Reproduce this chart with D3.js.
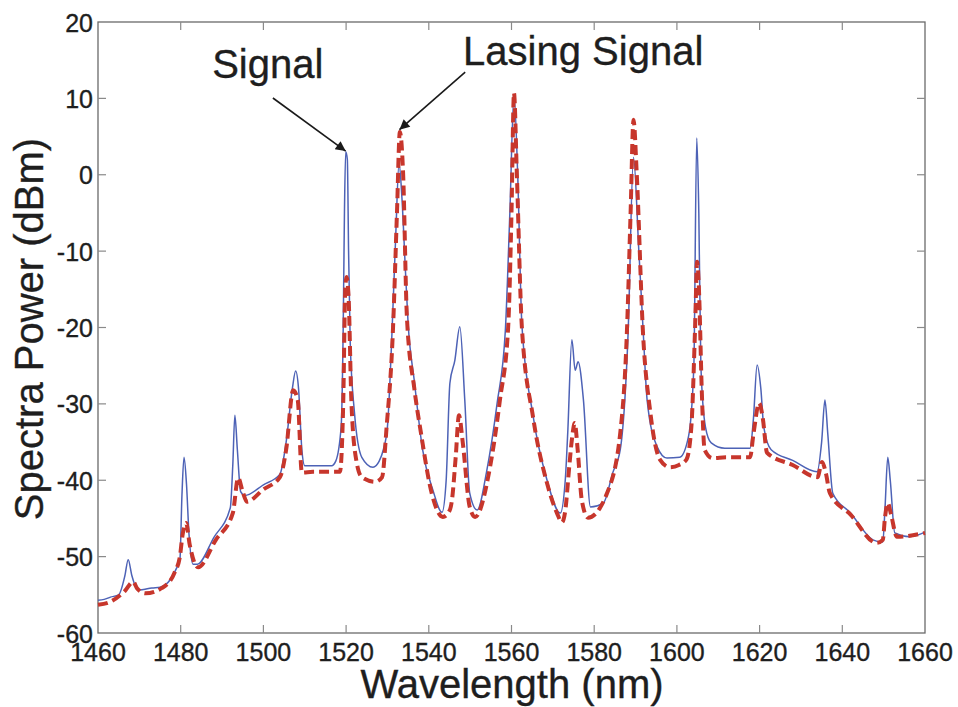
<html>
  <head>
    <meta charset="utf-8">
    <title>Spectra Power vs Wavelength</title>
  </head>
<style>
  body { margin: 0; background: #fff; }
  text { font-family: "Liberation Sans", Arial, sans-serif; fill: #1e1e1e; stroke: #1e1e1e; stroke-width: 0.35px; }
</style>
  <body>
    <script src="https://d3js.org/d3.v7.min.js" charset="utf-8"></script>
    <script>

    var width = 958,
        height = 707;

    // axis ticks
    var xTicks = [1460, 1480, 1500, 1520, 1540, 1560, 1580, 1600, 1620, 1640, 1660];
    var yTicks = [20, 10, 0, -10, -20, -30, -40, -50, -60];

    // blue solid trace (wavelength nm / power dBm)
    var blueWl = [1460, 1461.5, 1463, 1465, 1466.5, 1467.3, 1468.2, 1469.7, 1471, 1473, 1475, 1477.5, 1479, 1479.8,
      1480.3, 1480.8, 1481.4, 1482, 1483, 1484, 1488, 1492, 1492.6, 1493.1, 1493.7, 1494.5, 1495.5, 1500, 1504,
      1505.5, 1507, 1507.8, 1508.5, 1509.3, 1510, 1516.5, 1517.5, 1518.8, 1519.3, 1519.6, 1519.9, 1520.3, 1520.6,
      1521, 1522, 1523.8, 1526.5, 1528, 1529, 1530, 1531, 1532, 1532.8, 1533.5, 1534.3, 1535, 1536.5, 1538.5,
      1541, 1543.2, 1544.2, 1545.1, 1546.3, 1547.5, 1548.7, 1549.9, 1551.7, 1554, 1556.5, 1558.5, 1559.6, 1560.6,
      1561.5, 1562.5, 1565.2, 1568.6, 1571.8, 1573, 1573.6, 1574.6, 1575.4, 1576.1, 1577.4, 1579.1, 1582.2, 1584.5,
      1586.3, 1588.2, 1589.5, 1590.8, 1591.8, 1592.8, 1595.2, 1597.6, 1600.7, 1602.8, 1604.1, 1604.8, 1605.3,
      1605.8, 1606.9, 1608.3, 1611.6, 1617.7, 1618.5, 1619.4, 1620.3, 1621, 1622.8, 1628, 1633.9, 1635, 1635.8,
      1636.5, 1637.7, 1642, 1647.4, 1649.8, 1650.3, 1651, 1651.6, 1652.7, 1656.3, 1660];
    var blueDbm = [-55.7, -55.6, -55.3, -55.0, -52.5, -50.4, -52.5, -54.4, -54.3, -54.1, -54.0, -53.0, -51.5, -50.5,
      -42.0, -37.0, -40.5, -47.0, -51.0, -51.0, -47.5, -43.6, -38.0, -31.5, -36.0, -41.5, -42.0, -40.6, -39.2,
      -35.0, -28.0, -25.7, -28.0, -36.0, -38.1, -38.1, -37.5, -33.0, -20.0, -5.0, 3.0, 2.0, -10.0,
      -22.0, -31.0, -37.0, -38.3, -37.5, -36.0, -33.0, -22.0, -8.0, 1.5, -3.0, -12.0, -19.5, -27.0, -36.0,
      -41.3, -44.2, -40.0, -27.3, -24.3, -19.9, -29.5, -41.7, -43.9, -38.8, -30.0, -20.5, -5.0, 10.5,
      0.0, -19.5, -31.5, -40.0, -44.3, -40.0, -33.8, -21.6, -25.6, -24.5, -29.5, -43.5, -43.0, -39.0,
      -36.0, -20.7, 2.3, -10.0, -20.0, -29.5, -35.6, -37.1, -37.0, -34.3, -25.0, 4.8, -5.0,
      -25.0, -33.0, -35.1, -35.8, -35.8, -32.0, -24.9, -28.0, -33.0, -36.0, -37.4, -38.9, -35.0, -29.5,
      -34.0, -41.7, -44.3, -47.8, -48.1, -44.0, -37.0, -40.0, -46.9, -47.4, -46.8];

    // red dashed trace
    var redWl = [1460, 1463, 1466.5, 1468.5, 1469.5, 1471.5, 1475.5, 1478.5, 1479.8, 1480.5, 1481.3, 1482.2, 1484.2,
      1488.5, 1492.6, 1493.9, 1495, 1496, 1500, 1504, 1505.5, 1507.2, 1508.3, 1509.3, 1512, 1518.5, 1519.3,
      1519.8, 1520.1, 1520.6, 1521.3, 1522.5, 1523.8, 1527, 1528.7, 1529.8, 1531.3, 1532.3, 1533, 1533.8, 1534.7,
      1536.5, 1538.1, 1540.7, 1543.4, 1545, 1545.6, 1546.5, 1547.3, 1548.2, 1549.9, 1551.2, 1554.8, 1557.2,
      1559.2, 1560, 1560.6, 1561.3, 1562.5, 1565.2, 1568.6, 1571, 1572.2, 1573, 1574, 1574.6, 1575.3, 1576,
      1577, 1578.5, 1583.1, 1586.3, 1587.9, 1588.8, 1589.5, 1590.3, 1591.8, 1593.5, 1595.9, 1598.3, 1600.5,
      1602.3, 1603.5, 1604.4, 1604.9, 1605.4, 1606, 1606.7, 1608.6, 1612, 1617.7, 1618.5, 1619.9, 1620.8, 1621.8,
      1628, 1634, 1635.1, 1636, 1637, 1642, 1648.3, 1649.8, 1650.3, 1651, 1651.8, 1653.2, 1660];
    var redDbm = [-56.3, -55.9, -54.5, -53.3, -54.2, -54.8, -54.1, -52.1, -50.0, -47.0, -45.6, -48.5, -51.4,
      -47.8, -44.3, -39.7, -41.5, -42.8, -41.2, -39.6, -36.0, -28.2, -29.5, -39.0, -38.9, -38.9, -30.0,
      -15.0, -13.4, -16.0, -30.0, -37.5, -39.6, -40.2, -39.6, -33.0, -20.7, -5.0, 5.6, 0.0, -18.6,
      -28.0, -33.8, -41.7, -44.8, -44.0, -42.6, -37.0, -31.5, -35.0, -43.5, -44.8, -38.3, -29.5,
      -19.9, -5.0, 10.7, 0.0, -19.9, -31.7, -40.4, -44.3, -45.5, -44.0, -38.0, -34.7, -32.5, -36.0,
      -42.6, -44.9, -41.7, -33.8, -20.7, -5.0, 7.2, 0.0, -20.7, -30.8, -37.3, -38.3, -38.0,
      -37.3, -33.0, -20.0, -11.4, -16.0, -28.0, -36.0, -37.1, -37.0, -37.0, -34.0, -29.9, -32.0, -36.4,
      -38.0, -39.6, -37.6, -39.0, -41.7, -44.5, -48.2, -47.8, -45.0, -43.0, -44.5, -47.4, -46.9];

    // annotations: text position and arrow tail -> tip, in data units
    var noteText = ["Signal", "Lasing Signal"];
    var noteTextPos = [[1487.6, 12.7], [1548.3, 14.4]];
    var noteTail = [[1502.3, 10.05], [1548.8, 13.45]];
    var noteTip = [[1519.9, 3.1], [1532.9, 5.9]];

    var margin = {top: 22, right: 33, bottom: 74, left: 98};

    var x = d3.scaleLinear().domain([1460, 1660]).range([margin.left, width - margin.right]);
    var y = d3.scaleLinear().domain([-60, 20]).range([height - margin.bottom, margin.top]);

    var svg = d3.select("body")
                .append("svg")
                .attr("width", width)
                .attr("height", height);

    svg.append("defs").append("marker")
       .attr("id", "arrow")
       .attr("viewBox", "0 0 10 10")
       .attr("refX", 10).attr("refY", 5)
       .attr("markerWidth", 16).attr("markerHeight", 10)
       .attr("markerUnits", "userSpaceOnUse")
       .attr("orient", "auto")
       .append("path")
       .attr("d", "M0,0 L10,5 L0,10 Z")
       .attr("fill", "#1a1a1a");

    var x0 = x.range()[0], x1 = x.range()[1], y0 = y.range()[0], y1 = y.range()[1];

    // box + inner ticks (matlab style)
    var axisColor = "#6a6a6a";
    svg.append("rect")
       .attr("x", x0).attr("y", y1)
       .attr("width", x1 - x0).attr("height", y0 - y1)
       .attr("fill", "none").attr("stroke", axisColor).attr("stroke-width", 1.3);

    var tk = 8;
    var ticks = svg.append("g").attr("stroke", "#8a8a8a").attr("stroke-width", 1.2);
    xTicks.slice(1, -1).forEach(function(t) {
      ticks.append("line").attr("x1", x(t)).attr("x2", x(t)).attr("y1", y0).attr("y2", y0 - tk);
      ticks.append("line").attr("x1", x(t)).attr("x2", x(t)).attr("y1", y1).attr("y2", y1 + tk);
    });
    yTicks.slice(1, -1).forEach(function(t) {
      ticks.append("line").attr("x1", x0).attr("x2", x0 + tk).attr("y1", y(t)).attr("y2", y(t));
      ticks.append("line").attr("x1", x1).attr("x2", x1 - tk).attr("y1", y(t)).attr("y2", y(t));
    });

    // tick labels
    svg.selectAll(".xl").data(xTicks).enter().append("text")
       .attr("x", function(d) { return x(d); })
       .attr("y", y0 + 28)
       .attr("text-anchor", "middle")
       .attr("font-size", 25)
       .text(function(d) { return d; });

    svg.selectAll(".yl").data(yTicks).enter().append("text")
       .attr("x", x0 - 5)
       .attr("y", function(d) { return y(d); })
       .attr("dy", "0.38em")
       .attr("text-anchor", "end")
       .attr("font-size", 25)
       .text(function(d) { return d; });

    // axis titles
    svg.append("text")
       .attr("x", 512).attr("y", 698)
       .attr("text-anchor", "middle")
       .attr("font-size", 40)
       .text("Wavelength (nm)");

    svg.append("text")
       .attr("transform", "translate(43," + 329 + ") rotate(-90)")
       .attr("text-anchor", "middle")
       .attr("font-size", 40)
       .text("Spectra Power (dBm)");

    // traces
    var line = d3.line()
                 .x(function(d) { return x(d[0]); })
                 .y(function(d) { return y(d[1]); })
                 .curve(d3.curveMonotoneX);

    var plot = svg.append("g");

    plot.append("path")
        .datum(d3.zip(blueWl, blueDbm))
        .attr("d", line)
        .attr("fill", "none")
        .attr("stroke", "#4d62b6")
        .attr("stroke-width", 1.5)
        .attr("stroke-linejoin", "round");

    plot.append("path")
        .datum(d3.zip(redWl, redDbm))
        .attr("d", line)
        .attr("fill", "none")
        .attr("stroke", "#c7362c")
        .attr("stroke-width", 4)
        .attr("stroke-dasharray", "10,5");

    // annotations
    noteText.forEach(function(t, i) {
      svg.append("text")
         .attr("x", x(noteTextPos[i][0])).attr("y", y(noteTextPos[i][1]))
         .attr("font-size", 40)
         .text(t);
      svg.append("line")
         .attr("x1", x(noteTail[i][0])).attr("y1", y(noteTail[i][1]))
         .attr("x2", x(noteTip[i][0])).attr("y2", y(noteTip[i][1]))
         .attr("stroke", "#1a1a1a").attr("stroke-width", 1.6)
         .attr("marker-end", "url(#arrow)");
    });

    </script>
  </body>
</html>
